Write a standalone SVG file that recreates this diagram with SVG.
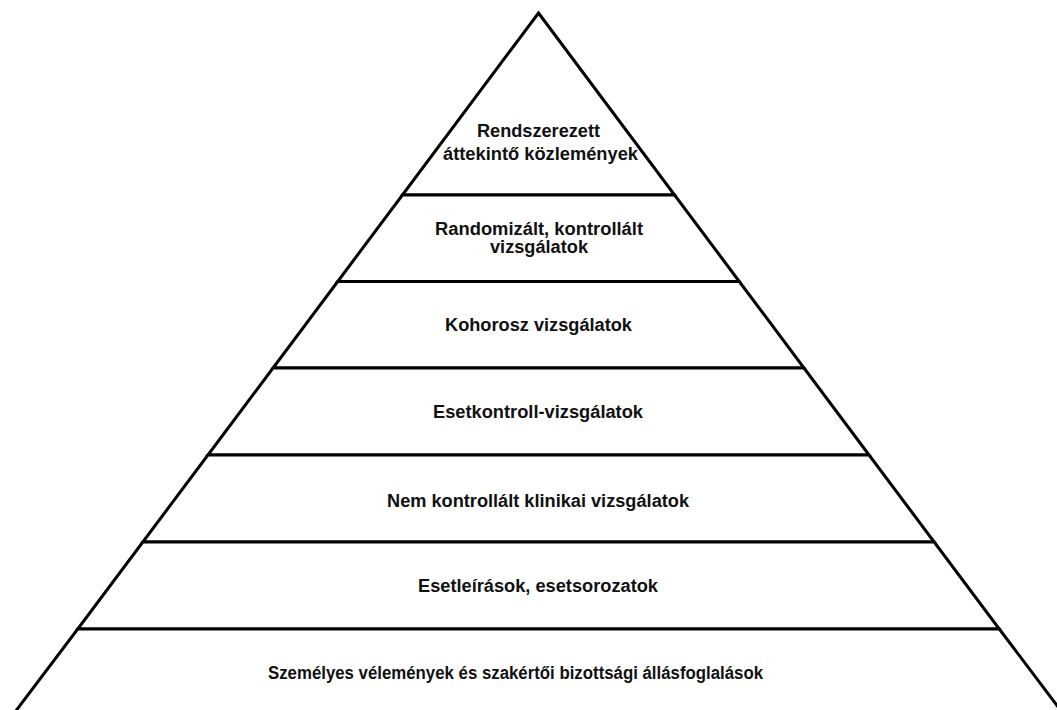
<svg xmlns="http://www.w3.org/2000/svg" width="1057" height="710" viewBox="0 0 1057 710">
  <style>
    .tier { fill: #ffffff; stroke: #000000; stroke-width: 3; stroke-linejoin: miter; }
    .lbl { font-family: "Liberation Sans", Arial, sans-serif; font-weight: bold; font-size: 18px; fill: #111111; text-anchor: middle; }
  </style>
  <rect width="1057" height="710" fill="#ffffff"/>

  <!-- Evidence pyramid, top to bottom -->
  <g id="tier-1">
    <polygon class="tier" points="538.5,13 674.6,195 402.4,195"/>
    <text class="lbl" x="538.5" y="137" textLength="123" lengthAdjust="spacingAndGlyphs">Rendszerezett</text>
    <text class="lbl" x="540.5" y="160" textLength="195" lengthAdjust="spacingAndGlyphs">áttekintő közlemények</text>
  </g>
  <g id="tier-2">
    <polygon class="tier" points="402.4,195 674.6,195 739.3,281.5 337.7,281.5"/>
    <text class="lbl" x="539" y="235" textLength="208" lengthAdjust="spacingAndGlyphs">Randomizált, kontrollált</text>
    <text class="lbl" x="539" y="253" textLength="98" lengthAdjust="spacingAndGlyphs">vizsgálatok</text>
  </g>
  <g id="tier-3">
    <polygon class="tier" points="337.7,281.5 739.3,281.5 804,368 273,368"/>
    <text class="lbl" x="538.5" y="331" textLength="187" lengthAdjust="spacingAndGlyphs">Kohorosz vizsgálatok</text>
  </g>
  <g id="tier-4">
    <polygon class="tier" points="273,368 804,368 869.1,455 207.9,455"/>
    <text class="lbl" x="538" y="418" textLength="210" lengthAdjust="spacingAndGlyphs">Esetkontroll-vizsgálatok</text>
  </g>
  <g id="tier-5">
    <polygon class="tier" points="207.9,455 869.1,455 934.2,542 142.8,542"/>
    <text class="lbl" x="538" y="507" textLength="302" lengthAdjust="spacingAndGlyphs">Nem kontrollált klinikai vizsgálatok</text>
  </g>
  <g id="tier-6">
    <polygon class="tier" points="142.8,542 934.2,542 999.3,629 77.7,629"/>
    <text class="lbl" x="538" y="592" textLength="240" lengthAdjust="spacingAndGlyphs">Esetleírások, esetsorozatok</text>
  </g>
  <g id="tier-7">
    <polygon class="tier" points="77.7,629 999.3,629 1068,720 9,720"/>
    <text class="lbl" x="515.5" y="679" textLength="495" lengthAdjust="spacingAndGlyphs">Személyes vélemények és szakértői bizottsági állásfoglalások</text>
  </g>
</svg>
